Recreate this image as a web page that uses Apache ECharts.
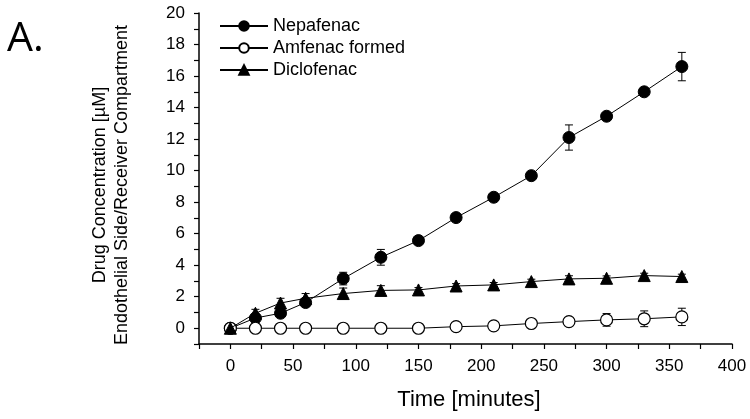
<!DOCTYPE html>
<html><head><meta charset="utf-8">
<script src="https://cdn.jsdelivr.net/npm/echarts@6/dist/echarts.min.js"></script>
<style>html,body{margin:0;padding:0;background:#fff}#c{width:750px;height:419px}</style>
</head><body><div id="c"></div>
<script>
var times = [0, 20, 40, 60, 90, 120, 150, 180, 210, 240, 270, 300, 330, 360];
var nepafenac = [0, 0.65, 0.95, 1.63, 3.15, 4.5, 5.56, 7.02, 8.31, 9.68, 12.1, 13.45, 15.0, 16.6];
var nepafenacErr = [0.1, 0.15, 0.2, 0.2, 0.4, 0.5, 0.15, 0.15, 0.15, 0.15, 0.8, 0.15, 0.15, 0.9];
var amfenac = [0, 0, 0, 0, 0, 0, 0, 0.1, 0.15, 0.3, 0.42, 0.53, 0.6, 0.72];
var amfenacErr = [0.05, 0.05, 0.05, 0.05, 0.05, 0.05, 0.05, 0.15, 0.2, 0.15, 0.15, 0.4, 0.5, 0.55];
var diclofenac = [0, 0.95, 1.6, 1.9, 2.2, 2.4, 2.43, 2.68, 2.75, 2.96, 3.13, 3.17, 3.34, 3.28];
var diclofenacErr = [0.1, 0.25, 0.3, 0.3, 0.35, 0.3, 0.15, 0.15, 0.15, 0.15, 0.2, 0.15, 0.15, 0.15];
var seriesNames = ['Nepafenac', 'Amfenac formed', 'Diclofenac'];
var xTitle = 'Time [minutes]';
var yTitle1 = 'Drug Concentration [\u00b5M]';
var yTitle2 = 'Endothelial Side/Receiver Compartment';
var panelLabel = 'A.';

function pairs(vals) { return times.map(function (t, i) { return [t, vals[i]]; }); }
function errData(vals, errs) { return times.map(function (t, i) { return [t, vals[i] - errs[i], vals[i] + errs[i]]; }); }
function errSeries(vals, errs) {
  return {
    type: 'custom', data: errData(vals, errs), z: 1, silent: true,
    renderItem: function (params, api) {
      var lo = api.coord([api.value(0), api.value(1)]);
      var hi = api.coord([api.value(0), api.value(2)]);
      var w = 4;
      var st = { stroke: '#000', lineWidth: 1 };
      return { type: 'group', children: [
        { type: 'line', shape: { x1: lo[0], y1: lo[1], x2: hi[0], y2: hi[1] }, style: st },
        { type: 'line', shape: { x1: lo[0] - w, y1: lo[1], x2: lo[0] + w, y2: lo[1] }, style: st },
        { type: 'line', shape: { x1: hi[0] - w, y1: hi[1], x2: hi[0] + w, y2: hi[1] }, style: st }
      ]};
    }
  };
}
var FONT = 'Liberation Sans, Arial, sans-serif';
var chart = echarts.init(document.getElementById('c'));
chart.setOption({
  animation: false,
  backgroundColor: '#fff',
  grid: { left: 199, top: 13, right: 18, bottom: 75, containLabel: false },
  legend: {
    left: 214, top: 12, orient: 'vertical', itemWidth: 48, itemHeight: 12, itemGap: 4,
    textStyle: { fontFamily: FONT, fontSize: 18, lineHeight: 14, color: '#000' },
    data: seriesNames
  },
  xAxis: {
    type: 'value', min: -25, max: 400, interval: 25,
    axisLine: { onZero: false, lineStyle: { color: '#000', width: 1.5 } },
    axisTick: { length: 5, lineStyle: { color: '#000', width: 1.2 } },
    axisLabel: { fontFamily: FONT, fontSize: 17, color: '#000', margin: 14,
      formatter: function (v) { return (v >= 0 && v % 50 === 0) ? String(v) : ''; } },
    splitLine: { show: false }
  },
  yAxis: {
    type: 'value', min: -1, max: 20, interval: 1,
    axisLine: { show: true, onZero: false, lineStyle: { color: '#000', width: 1.5 } },
    axisTick: { show: true, length: 5, lineStyle: { color: '#000', width: 1.2 } },
    axisLabel: { fontFamily: FONT, fontSize: 17, color: '#000', margin: 14,
      formatter: function (v) { return (v >= 0 && v % 2 === 0) ? String(v) : ''; } },
    splitLine: { show: false }
  },
  graphic: [
    { type: 'text', left: 7, top: 19, style: { text: panelLabel, font: '41px "Open Sans", sans-serif', fill: '#000' } },
    { type: 'text', x: 469, y: 400, style: { text: xTitle, font: '22px ' + FONT, fill: '#000', align: 'center', verticalAlign: 'middle' } },
    { type: 'text', x: 100, y: 185, rotation: Math.PI / 2, style: { text: yTitle1, font: '18px ' + FONT, fill: '#000', align: 'center', verticalAlign: 'middle' } },
    { type: 'text', x: 122, y: 185, rotation: Math.PI / 2, style: { text: yTitle2, font: '18px ' + FONT, fill: '#000', align: 'center', verticalAlign: 'middle' } }
  ],
  series: [
    errSeries(nepafenac, nepafenacErr),
    errSeries(amfenac, amfenacErr),
    errSeries(diclofenac, diclofenacErr),
    { name: seriesNames[0], type: 'line', data: pairs(nepafenac), z: 3, symbol: 'circle', symbolSize: 12,
      lineStyle: { color: '#000', width: 1 }, itemStyle: { color: '#000', borderColor: '#000', borderWidth: 1 } },
    { name: seriesNames[1], type: 'line', data: pairs(amfenac), z: 3, symbol: 'circle', symbolSize: 12,
      lineStyle: { color: '#000', width: 1 }, itemStyle: { color: '#fff', borderColor: '#000', borderWidth: 1.2 } },
    { name: seriesNames[2], type: 'line', data: pairs(diclofenac), z: 4, symbol: 'triangle', symbolSize: 12,
      lineStyle: { color: '#000', width: 1 }, itemStyle: { color: '#000', borderColor: '#000', borderWidth: 1 } }
  ]
});
</script></body></html>
